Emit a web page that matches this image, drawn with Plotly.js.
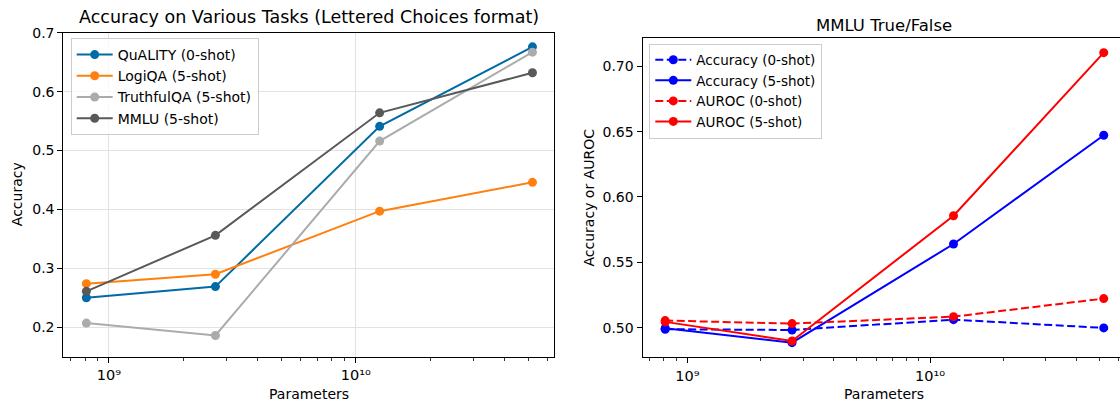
<!DOCTYPE html>
<html>
<head>
<meta charset="utf-8">
<script src="https://cdn.plot.ly/plotly-3.0.1.min.js"></script>
<style>html,body{margin:0;padding:0;background:#fff;} #chart{width:1120px;height:405px;}</style>
</head>
<body>
<div id="chart"></div>
<script>
// ---- data ----
const params = [8.1e8, 2.7e9, 1.25e10, 5.2e10];

const qualityAcc = [0.250, 0.269, 0.541, 0.676];
const logiqaAcc = [0.274, 0.290, 0.397, 0.446];
const truthfulqaAcc = [0.207, 0.186, 0.516, 0.667];
const mmluAcc = [0.261, 0.356, 0.564, 0.632];

const tfAcc0 = [0.4988, 0.4982, 0.5061, 0.4998];
const tfAcc5 = [0.4995, 0.4885, 0.5640, 0.6472];
const tfAuroc0 = [0.5054, 0.5031, 0.5084, 0.5222];
const tfAuroc5 = [0.5044, 0.4898, 0.5856, 0.7104];

const leftNames = ["QuALITY (0-shot)", "LogiQA (5-shot)", "TruthfulQA (5-shot)", "MMLU (5-shot)"];
const rightNames = ["Accuracy (0-shot)", "Accuracy (5-shot)", "AUROC (0-shot)", "AUROC (5-shot)"];
const leftTitle = "Accuracy on Various Tasks (Lettered Choices format)";
const rightTitle = "MMLU True/False";
const xLabel = "Parameters";
const leftYLabel = "Accuracy";
const rightYLabel = "Accuracy or AUROC";
const majorX = [1e9, 1e10];
const majorXText = ["10\u2079", "10\u00B9\u2070"];
const minorX = [7e8, 8e8, 9e8, 2e9, 3e9, 4e9, 5e9, 6e9, 7e9, 8e9, 9e9, 2e10, 3e10, 4e10, 5e10, 6e10];
const leftYTicks = [0.2, 0.3, 0.4, 0.5, 0.6, 0.7];
const rightYTicks = [0.50, 0.55, 0.60, 0.65, 0.70];

// ---- layout helpers ----
const W = 1120, H = 405;
const px = v => v / W;
const py = v => 1 - v / H;
const FONT = "DejaVu Sans, sans-serif";

function line(y, name, color, dash, xa, ya, legend) {
  return {
    x: params, y: y, name: name, type: "scatter", mode: "lines+markers",
    line: {color: color, width: 2, dash: dash},
    marker: {color: color, size: 9},
    xaxis: xa, yaxis: ya, legend: legend
  };
}

const traces = [
  line(qualityAcc, leftNames[0], "#006BA4", "solid", "x", "y", "legend"),
  line(logiqaAcc, leftNames[1], "#FF800E", "solid", "x", "y", "legend"),
  line(truthfulqaAcc, leftNames[2], "#ABABAB", "solid", "x", "y", "legend"),
  line(mmluAcc, leftNames[3], "#595959", "solid", "x", "y", "legend"),
  line(tfAcc0, rightNames[0], "#0000FF", "8px,3.5px", "x2", "y2", "legend2"),
  line(tfAcc5, rightNames[1], "#0000FF", "solid", "x2", "y2", "legend2"),
  line(tfAuroc0, rightNames[2], "#FF0000", "8px,3.5px", "x2", "y2", "legend2"),
  line(tfAuroc5, rightNames[3], "#FF0000", "solid", "x2", "y2", "legend2")
];

const tickFont = {family: FONT, size: 14, color: "#000"};
const xTickFont = {family: FONT, size: 14.5, color: "#000"};

function xaxisCfg(domain, range, grid, mirror) {
  return {
    type: "log", domain: domain, range: range,
    tickmode: "array", tickvals: majorX, ticktext: majorXText,
    ticks: "outside", ticklen: 5, tickwidth: 1, tickcolor: "#000",
    showline: true, linecolor: "#000", linewidth: 1, mirror: mirror,
    showgrid: grid, gridcolor: "#e2e2e2", gridwidth: 1,
    zeroline: false, tickfont: xTickFont,
    minor: {tickmode: "array", tickvals: minorX, ticks: "outside", ticklen: 3, tickwidth: 0.8, tickcolor: "#000", showgrid: false}
  };
}

const layout = {
  width: W, height: H,
  margin: {l: 0, r: 0, t: 0, b: 0},
  paper_bgcolor: "#fff", plot_bgcolor: "#fff",
  font: {family: FONT, size: 14, color: "#000"},
  showlegend: true,
  xaxis: xaxisCfg([px(63.3), px(554.4)], [8.815, 10.805], true, true),
  yaxis: {
    domain: [py(356.7), py(32.7)], range: [0.15, 0.70],
    tickmode: "array", tickvals: leftYTicks, ticktext: leftYTicks.map(v => v.toFixed(1)),
    ticks: "outside", ticklen: 5, tickwidth: 1, tickcolor: "#000",
    showline: true, linecolor: "#000", linewidth: 1, mirror: true,
    showgrid: true, gridcolor: "#e2e2e2", gridwidth: 1, zeroline: false,
    tickfont: tickFont
  },
  xaxis2: Object.assign(xaxisCfg([px(642.5), 1], [8.815, 10.783], false, true), {anchor: "y2"}),
  yaxis2: {
    domain: [py(357.3), py(38.3)], range: [0.4773, 0.7214], anchor: "x2",
    tickmode: "array", tickvals: rightYTicks, ticktext: rightYTicks.map(v => v.toFixed(2)),
    ticks: "outside", ticklen: 5, tickwidth: 1, tickcolor: "#000",
    showline: true, linecolor: "#000", linewidth: 1, mirror: false,
    showgrid: false, zeroline: false, tickfont: tickFont
  },
  legend: {
    x: px(70.7), y: py(38), xanchor: "left", yanchor: "top",
    bgcolor: "rgba(255,255,255,0.8)", bordercolor: "#cccccc", borderwidth: 1,
    font: {family: FONT, size: 14, color: "#000"}, tracegroupgap: 0, itemwidth: 36
  },
  legend2: {
    x: px(649.3), y: py(43.5), xanchor: "left", yanchor: "top",
    bgcolor: "rgba(255,255,255,0.8)", bordercolor: "#cccccc", borderwidth: 1,
    font: {family: FONT, size: 13.5, color: "#000"}, tracegroupgap: 0, itemwidth: 36
  },
  annotations: [
    {text: leftTitle, x: px(309), y: py(17.5), xref: "paper", yref: "paper", xanchor: "center", yanchor: "middle", showarrow: false, font: {family: FONT, size: 17.5, color: "#000"}},
    {text: rightTitle, x: px(884), y: py(25), xref: "paper", yref: "paper", xanchor: "center", yanchor: "middle", showarrow: false, font: {family: FONT, size: 16.5, color: "#000"}},
    {text: xLabel, x: px(309), y: py(394), xref: "paper", yref: "paper", xanchor: "center", yanchor: "middle", showarrow: false, font: {family: FONT, size: 14, color: "#000"}},
    {text: xLabel, x: px(884), y: py(394), xref: "paper", yref: "paper", xanchor: "center", yanchor: "middle", showarrow: false, font: {family: FONT, size: 14, color: "#000"}},
    {text: leftYLabel, x: px(16.5), y: py(194.7), xref: "paper", yref: "paper", xanchor: "center", yanchor: "middle", textangle: -90, showarrow: false, font: {family: FONT, size: 14, color: "#000"}},
    {text: rightYLabel, x: px(588.5), y: py(198), xref: "paper", yref: "paper", xanchor: "center", yanchor: "middle", textangle: -90, showarrow: false, font: {family: FONT, size: 14, color: "#000"}}
  ]
};

Plotly.newPlot("chart", traces, layout, {displayModeBar: false, staticPlot: true});
</script>
</body>
</html>
